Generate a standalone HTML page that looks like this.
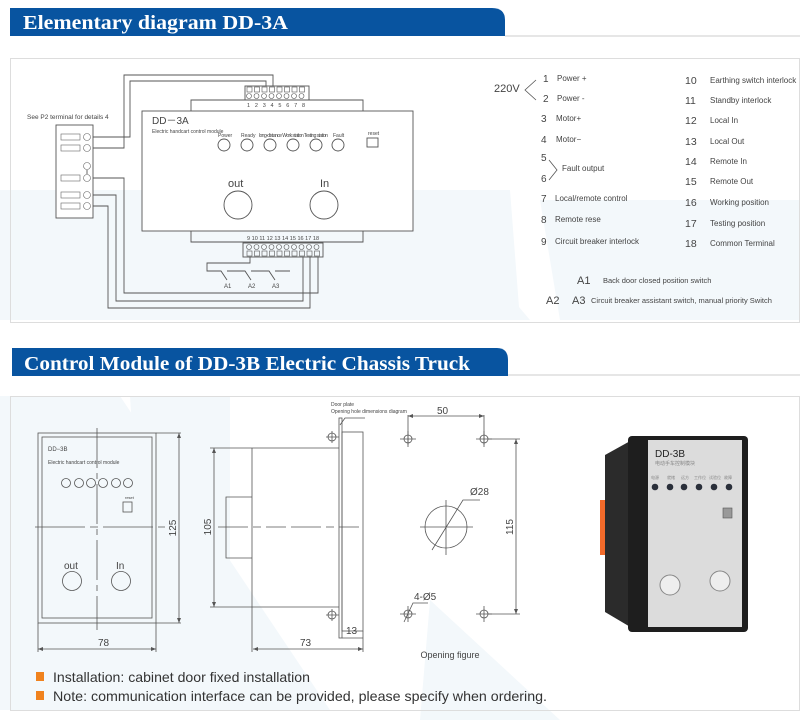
<!DOCTYPE html>
<html><head><meta charset="utf-8"><style>
html,body{margin:0;padding:0;background:#fff}
svg{display:block;font-family:"Liberation Sans",sans-serif}
</style></head><body>
<svg width="800" height="724" viewBox="0 0 800 724" xmlns="http://www.w3.org/2000/svg">
<!-- faint watermark -->
<g fill="#f3f8fb">
<polygon points="0,190 420,190 530,320 0,320"/>
<polygon points="300,190 510,190 520,320 300,320"/>
<polygon points="0,396 120,396 330,710 0,710"/>
<polygon points="130,396 230,396 230,710 150,710"/>
<polygon points="430,600 560,720 420,720"/>
<polygon points="540,200 800,200 800,320 560,320"/>
</g>
<!-- headers -->
<path d="M10,8 H492 Q505,8 505,20 V36 H10 Z" fill="#0854a0"/>
<line x1="505" y1="36" x2="800" y2="36" stroke="#ccc"/>
<text x="23" y="29" fill="#fff" font-family="Liberation Serif,serif" font-weight="bold" font-size="20" textLength="265" lengthAdjust="spacingAndGlyphs">Elementary diagram DD-3A</text>
<path d="M12,348 H497 Q508,348 508,360 V376 H12 Z" fill="#0854a0"/>
<line x1="508" y1="375" x2="800" y2="375" stroke="#ccc"/>
<text x="24" y="370" fill="#fff" font-family="Liberation Serif,serif" font-weight="bold" font-size="20" textLength="446" lengthAdjust="spacingAndGlyphs">Control Module of DD-3B Electric Chassis Truck</text>
<!-- boxes -->
<rect x="10.5" y="58.5" width="789" height="264" fill="none" stroke="#ddd"/>
<rect x="10.5" y="396.5" width="789" height="314" fill="none" stroke="#ddd"/>

<!-- diagram 1 -->
<g stroke="#555" fill="none" stroke-width="0.9">
<rect x="142" y="111" width="271" height="120" fill="#fff"/>
<path d="M191,111 V100 H363 V111"/>
<path d="M191,231 V242 H363 V231"/>
<rect x="245" y="86" width="64" height="14"/>
<rect x="243" y="243" width="80" height="14"/>
<path d="M93,148 H124 V75 H273 V86"/>
<path d="M93,137 H130 V81 H266 V86"/>
<path d="M93,178 H124 V293 H318 V257"/>
<path d="M93,195 H116 V301 H303 V257"/>
<path d="M93,206 H108 V308 H310 V257"/>
<path d="M250,257 V263 H207 V271 H221 L227,280 M227,271 H245 L251,280 M251,271 H269 L275,280 M275,271 H290"/>
<rect x="56" y="125" width="37" height="93" fill="#fff"/>
<line x1="87" y1="170" x2="87" y2="174"/>
<circle cx="224" cy="145" r="6"/><circle cx="247" cy="145" r="6"/><circle cx="270" cy="145" r="6"/><circle cx="293" cy="145" r="6"/><circle cx="316" cy="145" r="6"/><circle cx="338" cy="145" r="6"/>
<rect x="367" y="138" width="11" height="9"/>
<circle cx="238" cy="205" r="14"/><circle cx="324" cy="205" r="14"/>
</g>
<g stroke="#666" fill="#fff" stroke-width="0.6">
<circle cx="87" cy="137" r="3.5"/><circle cx="87" cy="148" r="3.5"/><circle cx="87" cy="166" r="3.5"/><circle cx="87" cy="178" r="3.5"/><circle cx="87" cy="195" r="3.5"/><circle cx="87" cy="206" r="3.5"/>
<rect x="61" y="134" width="19" height="6"/><rect x="61" y="145" width="19" height="6"/><rect x="61" y="175" width="19" height="6"/><rect x="61" y="192" width="19" height="6"/><rect x="61" y="203" width="19" height="6"/>
</g>
<g stroke="#555" fill="none" stroke-width="0.6">
<circle cx="249" cy="96" r="2.5"/><circle cx="256.5" cy="96" r="2.5"/><circle cx="264" cy="96" r="2.5"/><circle cx="271.5" cy="96" r="2.5"/><circle cx="279" cy="96" r="2.5"/><circle cx="286.5" cy="96" r="2.5"/><circle cx="294" cy="96" r="2.5"/><circle cx="301.5" cy="96" r="2.5"/>
<rect x="247" y="87" width="5" height="5"/><rect x="254.5" y="87" width="5" height="5"/><rect x="262" y="87" width="5" height="5"/><rect x="269.5" y="87" width="5" height="5"/><rect x="277" y="87" width="5" height="5"/><rect x="284.5" y="87" width="5" height="5"/><rect x="292" y="87" width="5" height="5"/><rect x="299.5" y="87" width="5" height="5"/>
<circle cx="249" cy="247" r="2.5"/><circle cx="256.5" cy="247" r="2.5"/><circle cx="264" cy="247" r="2.5"/><circle cx="271.5" cy="247" r="2.5"/><circle cx="279" cy="247" r="2.5"/><circle cx="286.5" cy="247" r="2.5"/><circle cx="294" cy="247" r="2.5"/><circle cx="301.5" cy="247" r="2.5"/><circle cx="309" cy="247" r="2.5"/><circle cx="316.5" cy="247" r="2.5"/>
<rect x="247" y="251" width="5" height="5"/><rect x="254.5" y="251" width="5" height="5"/><rect x="262" y="251" width="5" height="5"/><rect x="269.5" y="251" width="5" height="5"/><rect x="277" y="251" width="5" height="5"/><rect x="284.5" y="251" width="5" height="5"/><rect x="292" y="251" width="5" height="5"/><rect x="299.5" y="251" width="5" height="5"/><rect x="307" y="251" width="5" height="5"/><rect x="314.5" y="251" width="5" height="5"/>
</g>
<g fill="#444" font-size="5">
<text x="247" y="107" font-size="5.5" textLength="58">1 2 3 4 5 6 7 8</text>
<text x="247" y="240" font-size="5.5" textLength="72">9 10 11 12 13 14 15 16 17 18</text>
<text x="27" y="119" font-size="6.5">See P2 terminal for details 4</text>
<text x="152" y="124" font-size="10">DD－3A</text>
<text x="152" y="133" font-size="5">Electric handcart control module</text>
<text x="218" y="137">Power</text><text x="241" y="137">Ready</text><text x="259" y="137" textLength="69">long-distance Work station Testing station</text><text x="333" y="137">Fault</text>
<text x="368" y="135">reset</text>
<text x="228" y="187" font-size="11">out</text><text x="320" y="187" font-size="11">In</text>
<text x="224" y="288" font-size="6">A1</text><text x="248" y="288" font-size="6">A2</text><text x="272" y="288" font-size="6">A3</text>
</g>
<!-- legend -->
<g fill="#444" font-size="8">
<text x="494" y="92" font-size="11">220V</text>
<path d="M536,80 L525,90 L536,100" stroke="#555" fill="none" stroke-width="0.8"/>
<path d="M549,160 L557,170 L549,180" stroke="#555" fill="none" stroke-width="0.8"/>
<g font-size="10"><text x="543" y="82">1</text><text x="543" y="102">2</text><text x="541" y="122">3</text><text x="541" y="143">4</text><text x="541" y="161">5</text><text x="541" y="182">6</text><text x="541" y="202">7</text><text x="541" y="223">8</text><text x="541" y="245">9</text></g>
<text x="557" y="81">Power +</text><text x="557" y="101">Power -</text><text x="556" y="121">Motor+</text><text x="556" y="142">Motor−</text><text x="562" y="171">Fault output</text><text x="555" y="201">Local/remote control</text><text x="555" y="222">Remote rese</text><text x="555" y="244">Circuit breaker interlock</text>
<g font-size="10.5"><text x="685" y="84">10</text><text x="685" y="104">11</text><text x="685" y="124">12</text><text x="685" y="145">13</text><text x="685" y="165">14</text><text x="685" y="185">15</text><text x="685" y="206">16</text><text x="685" y="227">17</text><text x="685" y="247">18</text></g>
<text x="710" y="83">Earthing switch interlock</text><text x="710" y="103">Standby interlock</text><text x="710" y="123">Local In</text><text x="710" y="144">Local Out</text><text x="710" y="164">Remote In</text><text x="710" y="184">Remote Out</text><text x="710" y="205">Working position</text><text x="710" y="226">Testing position</text><text x="710" y="246">Common Terminal</text>
<text x="577" y="284" font-size="11">A1</text><text x="603" y="283" font-size="7.5">Back door closed position switch</text>
<text x="546" y="304" font-size="11">A2</text><text x="572" y="304" font-size="11">A3</text><text x="591" y="303" font-size="7.5">Circuit breaker assistant switch, manual priority Switch</text>
</g>

<!-- section 2 front view -->
<g stroke="#555" fill="none" stroke-width="0.8">
<rect x="38" y="433" width="118" height="190"/>
<rect x="42" y="437" width="110" height="181"/>
<line x1="97" y1="428" x2="97" y2="630" stroke-dasharray="40,5,6,5"/>
<line x1="35" y1="527" x2="165" y2="527" stroke-dasharray="50,5,8,5"/>
<circle cx="66" cy="483" r="4.5"/><circle cx="79" cy="483" r="4.5"/><circle cx="91" cy="483" r="4.5"/><circle cx="103" cy="483" r="4.5"/><circle cx="116" cy="483" r="4.5"/><circle cx="128" cy="483" r="4.5"/>
<rect x="123" y="502" width="9" height="10"/>
<circle cx="72" cy="581" r="9.5"/><circle cx="121" cy="581" r="9.5"/>
<path d="M156,433 H181 M156,623 H181 M179,433 V623 M38,623 V652 M156,623 V652 M38,649 H156"/>
<path d="M210,448 H339 M210,607 H339 M214,448 V607 M252,448 V652 M226,497 H252 V558 H226 Z"/>
<line x1="218" y1="527" x2="362" y2="527" stroke-dasharray="30,5,8,5,20,5"/>
<rect x="339" y="418" width="3" height="220"/>
<rect x="342" y="432" width="21" height="199"/>
<path d="M363,631 V652 M253,649 H363 M342,638 H363"/>
<circle cx="332" cy="437" r="4"/><circle cx="332" cy="615" r="4"/>
<path d="M326,437 H339 M332,431 V443 M326,615 H339 M332,609 V621"/>
<path d="M340,425 L345,418 H365"/>
<path d="M408,415 V445 M484,415 V445 M408,416 H484 M488,439 H520 M488,614 H520 M516,439 V614"/>
<circle cx="408" cy="439" r="4"/><circle cx="484" cy="439" r="4"/><circle cx="408" cy="614" r="4"/><circle cx="484" cy="614" r="4"/>
<path d="M400,439 H416 M408,431 V447 M476,439 H492 M484,431 V447 M400,614 H416 M408,606 V622 M476,614 H492 M484,606 V622"/>
<circle cx="446" cy="527" r="21"/>
<path d="M420,527 H473 M446,500 V555 M432,550 L463,500 H480 M404,622 L413,603 H428"/>
</g>
<g fill="#555"><path d="M179,433 l-2,5 h4z M179,623 l-2,-5 h4z M38,649 l5,-2 v4z M156,649 l-5,-2 v4z M214,448 l-2,5 h4z M214,607 l-2,-5 h4z M253,649 l5,-2 v4z M363,649 l-5,-2 v4z M408,416 l5,-2 v4z M484,416 l-5,-2 v4z M516,439 l-2,5 h4z M516,614 l-2,-5 h4z"/></g>
<g fill="#444">
<text x="48" y="451" font-size="6">DD−3B</text>
<text x="48" y="464" font-size="5">Electric handcart control module</text>
<text x="125" y="499" font-size="4">reset</text>
<text x="64" y="569" font-size="10">out</text><text x="116" y="569" font-size="10">In</text>
<text x="98" y="646" font-size="10">78</text>
<text x="176" y="528" font-size="10" transform="rotate(-90 176 528)" text-anchor="middle">125</text>
<text x="211" y="527" font-size="10" transform="rotate(-90 211 527)" text-anchor="middle">105</text>
<text x="300" y="646" font-size="10">73</text>
<text x="346" y="634" font-size="10">13</text>
<text x="331" y="406" font-size="5">Door plate</text>
<text x="331" y="413" font-size="5">Opening hole dimensions diagram</text>
<text x="437" y="414" font-size="10">50</text>
<text x="470" y="495" font-size="10">Ø28</text>
<text x="414" y="600" font-size="10">4-Ø5</text>
<text x="513" y="527" font-size="10" transform="rotate(-90 513 527)" text-anchor="middle">115</text>
<text x="450" y="658" font-size="9" text-anchor="middle">Opening figure</text>
</g>
<!-- photo -->
<rect x="600" y="500" width="8" height="55" fill="#f26a2a"/>
<path d="M605,455 L632,440 V628 L605,612 Z" fill="#2b2b2b"/>
<rect x="628" y="436" width="120" height="196" rx="4" fill="#1e1e1e"/>
<rect x="648" y="440" width="94" height="187" fill="#dcdcdc"/>
<text x="655" y="457" font-size="10" fill="#222">DD-3B</text>
<text x="655" y="465" font-size="5" fill="#888" font-family="Liberation Sans,Noto Sans CJK SC,sans-serif">电动手车控制模块</text>
<g fill="#888" font-size="4" font-family="Liberation Sans,Noto Sans CJK SC,sans-serif"><text x="651" y="479">电源</text><text x="667" y="479">就绪</text><text x="681" y="479">远方</text><text x="694" y="479">工作位</text><text x="709" y="479">试验位</text><text x="724" y="479">故障</text></g>
<g fill="#2a2f3a"><circle cx="655" cy="487" r="3.3"/><circle cx="670" cy="487" r="3.3"/><circle cx="684" cy="487" r="3.3"/><circle cx="699" cy="487" r="3.3"/><circle cx="714" cy="487" r="3.3"/><circle cx="729" cy="487" r="3.3"/></g>
<rect x="723" y="508" width="9" height="10" fill="#999" stroke="#555" stroke-width="0.6"/>
<circle cx="670" cy="585" r="10" fill="#eee" stroke="#888"/><circle cx="720" cy="581" r="10" fill="#eee" stroke="#888"/>
<!-- bullets -->
<rect x="36" y="672" width="8" height="9" fill="#f0821e"/>
<rect x="36" y="691" width="8" height="9" fill="#f0821e"/>
<text x="53" y="682" font-size="14" fill="#333" textLength="257" lengthAdjust="spacingAndGlyphs">Installation: cabinet door fixed installation</text>
<text x="53" y="701" font-size="14" fill="#333" textLength="494" lengthAdjust="spacingAndGlyphs">Note: communication interface can be provided, please specify when ordering.</text>
</svg>
</body></html>
